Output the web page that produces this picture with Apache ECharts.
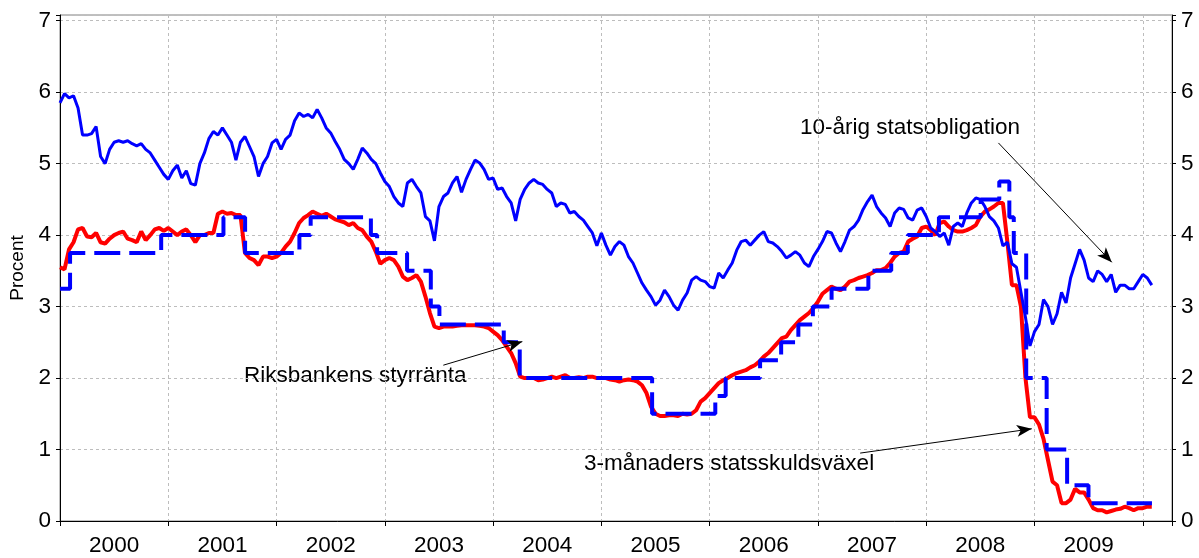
<!DOCTYPE html>
<html>
<head>
<meta charset="utf-8">
<script src="https://cdn.jsdelivr.net/npm/echarts@6/dist/echarts.min.js"></script>
<style>
  html, body { margin: 0; padding: 0; background: #fff; }
  #chart { width: 1199px; height: 558px; }
</style>
</head>
<body>
<div id="chart"></div>
<script>
// halvmånadsvisa observationer, första värdet = 1 jan 2000
const startYear = 2000;
const stepsPerYear = 24;

// 10-årig statsobligation
const bond10y = [
  5.85, 5.98, 5.92, 5.95, 5.78, 5.40, 5.40, 5.42, 5.52, 5.10, 5.00, 5.20, 5.30, 5.32, 5.30, 5.32, 5.28, 5.25, 5.28, 5.20, 5.15, 5.05, 4.95, 4.85,
  4.78, 4.90, 4.98, 4.80, 4.90, 4.72, 4.70, 5.00, 5.15, 5.35, 5.45, 5.40, 5.50, 5.40, 5.30, 5.05, 5.30, 5.38, 5.24, 5.10, 4.82, 5.00, 5.10, 5.29,
  5.34, 5.20, 5.34, 5.40, 5.60, 5.71, 5.66, 5.69, 5.64, 5.76, 5.64, 5.50, 5.43, 5.31, 5.20, 5.06, 5.00, 4.92, 5.06, 5.22, 5.15, 5.06, 5.00, 4.87,
  4.75, 4.68, 4.54, 4.45, 4.40, 4.73, 4.78, 4.68, 4.59, 4.26, 4.20, 3.92, 4.40, 4.54, 4.59, 4.73, 4.82, 4.60, 4.78, 4.92, 5.05, 5.01, 4.92, 4.78,
  4.80, 4.64, 4.66, 4.54, 4.45, 4.20, 4.50, 4.64, 4.73, 4.78, 4.73, 4.71, 4.64, 4.59, 4.40, 4.45, 4.43, 4.31, 4.33, 4.26, 4.21, 4.12, 4.03, 3.85,
  4.03, 3.86, 3.72, 3.84, 3.91, 3.86, 3.70, 3.61, 3.47, 3.33, 3.23, 3.14, 3.02, 3.09, 3.23, 3.14, 3.02, 2.95, 3.09, 3.19, 3.37, 3.42, 3.37, 3.35,
  3.28, 3.26, 3.47, 3.40, 3.51, 3.61, 3.79, 3.91, 3.93, 3.86, 3.93, 4.00, 4.05, 3.91, 3.89, 3.84, 3.77, 3.68, 3.72, 3.77, 3.72, 3.61, 3.56, 3.70,
  3.80, 3.91, 4.05, 4.03, 3.89, 3.77, 3.91, 4.07, 4.12, 4.21, 4.36, 4.47, 4.56, 4.40, 4.31, 4.24, 4.12, 4.31, 4.38, 4.36, 4.24, 4.21, 4.35, 4.38,
  4.26, 4.10, 4.05, 3.98, 4.03, 3.86, 4.12, 4.17, 4.12, 4.31, 4.45, 4.52, 4.50, 4.40, 4.26, 4.20, 4.10, 3.85, 3.90, 3.60, 3.55, 3.20, 2.85, 2.45,
  2.65, 2.75, 3.10, 3.00, 2.75, 2.90, 3.20, 3.05, 3.40, 3.60, 3.80, 3.65, 3.40, 3.35, 3.50, 3.45, 3.35, 3.45, 3.20, 3.30, 3.30, 3.25, 3.25, 3.35,
  3.45, 3.40, 3.30
];

// 3-månaders statsskuldsväxel
const tbill3m = [
  3.55, 3.52, 3.80, 3.90, 4.08, 4.10, 3.98, 3.97, 4.03, 3.90, 3.88, 3.95, 4.00, 4.03, 4.05, 3.95, 3.93, 3.90, 4.05, 3.93, 4.00, 4.08, 4.10, 4.06,
  4.10, 4.05, 4.00, 4.05, 4.08, 4.00, 3.90, 4.00, 4.00, 4.03, 4.03, 4.30, 4.33, 4.30, 4.31, 4.28, 4.28, 3.75, 3.68, 3.65, 3.58, 3.70, 3.70, 3.68,
  3.70, 3.75, 3.84, 3.91, 4.03, 4.17, 4.24, 4.28, 4.33, 4.30, 4.27, 4.30, 4.26, 4.22, 4.20, 4.18, 4.14, 4.17, 4.10, 4.07, 3.98, 3.91, 3.77, 3.60,
  3.65, 3.68, 3.65, 3.56, 3.42, 3.37, 3.40, 3.44, 3.35, 3.14, 2.91, 2.72, 2.70, 2.72, 2.72, 2.72, 2.73, 2.74, 2.74, 2.74, 2.74, 2.73, 2.72, 2.70,
  2.65, 2.60, 2.53, 2.44, 2.35, 2.21, 2.02, 2.00, 2.00, 2.00, 1.97, 1.98, 2.00, 2.02, 2.00, 2.02, 2.04, 2.00, 2.00, 2.01, 2.00, 2.02, 2.02, 2.00,
  2.00, 2.00, 1.98, 1.97, 1.95, 1.97, 1.98, 1.97, 1.95, 1.90, 1.79, 1.60, 1.50, 1.47, 1.47, 1.48, 1.48, 1.47, 1.50, 1.49, 1.50, 1.55, 1.67, 1.72,
  1.79, 1.86, 1.93, 1.97, 2.00, 2.04, 2.07, 2.09, 2.11, 2.15, 2.18, 2.23, 2.30, 2.35, 2.42, 2.49, 2.56, 2.58, 2.67, 2.74, 2.81, 2.86, 2.91, 2.98,
  3.07, 3.18, 3.23, 3.28, 3.25, 3.23, 3.28, 3.35, 3.37, 3.40, 3.42, 3.44, 3.47, 3.51, 3.51, 3.54, 3.61, 3.70, 3.75, 3.77, 3.91, 3.95, 3.98, 4.10,
  4.12, 4.07, 4.00, 4.17, 4.19, 4.12, 4.07, 4.05, 4.05, 4.07, 4.10, 4.14, 4.26, 4.33, 4.36, 4.40, 4.45, 4.45, 3.90, 3.30, 3.30, 3.00, 2.00, 1.45,
  1.45, 1.35, 1.15, 0.85, 0.55, 0.50, 0.25, 0.25, 0.30, 0.45, 0.40, 0.40, 0.30, 0.18, 0.15, 0.15, 0.12, 0.14, 0.16, 0.17, 0.20, 0.18, 0.15, 0.18,
  0.18, 0.20, 0.20
];

// Riksbankens styrränta (beslutsdatum och ny nivå)
const repoDates = [
  '2000-01-01', '2000-02-04', '2000-12-08', '2001-07-06', '2001-09-17', '2002-03-19', '2002-04-26', '2002-11-15',
  '2002-12-06', '2003-03-17', '2003-06-05', '2003-07-04', '2004-02-06', '2004-03-31', '2005-06-21', '2006-01-20',
  '2006-02-24', '2006-06-20', '2006-08-30', '2006-10-27', '2006-12-15', '2007-02-16', '2007-06-20', '2007-09-05',
  '2007-10-31', '2008-02-13', '2008-07-03', '2008-09-04', '2008-10-08', '2008-10-23', '2008-12-04', '2009-02-11',
  '2009-04-21', '2009-07-02', '2010-02-01'
];
const repoRates = [
  3.25, 3.75, 4.00, 4.25, 3.75, 4.00, 4.25, 4.00,
  3.75, 3.50, 3.00, 2.75, 2.50, 2.00, 1.50, 1.75,
  2.00, 2.25, 2.50, 2.75, 3.00, 3.25, 3.50, 3.75,
  4.00, 4.25, 4.50, 4.75, 4.25, 3.75, 2.00, 1.00,
  0.50, 0.25, 0.25
];

const yMin = 0, yMax = 7.08, yStep = 1;
const xMin = 2000, xMax = 2010.27;

function toYear(s) {
  const d = new Date(s + 'T00:00:00Z');
  const y = d.getUTCFullYear();
  const a = Date.UTC(y, 0, 1), b = Date.UTC(y + 1, 0, 1);
  return y + (d.getTime() - a) / (b - a);
}

const bondData = bond10y.map((v, i) => [startYear + i / stepsPerYear, v]);
const tbillData = tbill3m.map((v, i) => [startYear + i / stepsPerYear, v]);
const repoData = repoDates.map((d, i) => [toYear(d), repoRates[i]]);

const FONT = 'Liberation Sans, Arial, sans-serif';
const gridLine = { show: true, lineStyle: { color: '#bdbdbd', type: [3, 3], width: 1 } };
const intLabel = v => (Math.abs(v - Math.round(v)) < 1e-6 ? String(Math.round(v)) : '');

const chart = echarts.init(document.getElementById('chart'));

const arrowStyle = {
  silent: true,
  symbol: ['none', 'arrow'],
  symbolSize: [9, 15],
  label: { show: false },
  lineStyle: { color: '#000', width: 1, type: 'solid' },
  emphasis: { disabled: true },
  animation: false
};

chart.setOption({
  animation: false,
  backgroundColor: '#fff',
  textStyle: { fontFamily: FONT },
  grid: {
    left: 60, right: 27, top: 15, bottom: 37,
    outerBoundsMode: 'none', containLabel: false,
    show: true, borderColor: '#808080', borderWidth: 1
  },
  xAxis: [
    {
      type: 'value', min: xMin, max: xMax, interval: 1,
      axisLine: { show: true, lineStyle: { color: '#000', width: 1 } },
      axisTick: { show: true, length: 5, lineStyle: { color: '#000' } },
      axisLabel: { show: false },
      splitLine: gridLine
    },
    {
      type: 'value', min: xMin, max: xMax, interval: 0.5, position: 'bottom',
      axisLine: { show: false }, axisTick: { show: false }, splitLine: { show: false },
      axisLabel: {
        margin: 13, color: '#000', fontSize: 22.5, fontFamily: FONT,
        formatter: v => (Math.abs(v % 1 - 0.5) < 1e-6 ? String(Math.floor(v)) : '')
      }
    }
  ],
  yAxis: [
    {
      type: 'value', min: yMin, max: yMax, interval: yStep, position: 'left',
      name: 'Procent', nameLocation: 'middle', nameGap: 32, nameRotate: 90,
      nameTextStyle: { color: '#000', fontSize: 19, fontFamily: FONT },
      axisLine: { show: true, lineStyle: { color: '#000' } },
      axisTick: { show: true, length: 4, lineStyle: { color: '#000' } },
      axisLabel: { margin: 9, color: '#000', fontSize: 22.5, fontFamily: FONT, formatter: intLabel },
      splitLine: gridLine
    },
    {
      type: 'value', min: yMin, max: yMax, interval: yStep, position: 'right',
      axisLine: { show: true, lineStyle: { color: '#000' } },
      axisTick: { show: true, length: 4, lineStyle: { color: '#000' } },
      axisLabel: { margin: 9, color: '#000', fontSize: 22.5, fontFamily: FONT, formatter: intLabel },
      splitLine: { show: false }
    }
  ],
  series: [
    {
      name: '3-månaders statsskuldsväxel', type: 'line', data: tbillData,
      showSymbol: false, symbol: 'none',
      lineStyle: { color: '#ff0000', width: 4 },
      markLine: Object.assign({ data: [[{ coord: [2007.39, 0.95] }, { coord: [2008.975, 1.29] }]] }, arrowStyle)
    },
    {
      name: '10-årig statsobligation', type: 'line', data: bondData,
      showSymbol: false, symbol: 'none',
      lineStyle: { color: '#0000ff', width: 3 },
      markLine: Object.assign({ data: [[{ coord: [2008.667, 5.29] }, { coord: [2009.714, 3.62] }]] }, arrowStyle)
    },
    {
      name: 'Riksbankens styrränta', type: 'line', data: repoData, step: 'end',
      showSymbol: false, symbol: 'none',
      lineStyle: { color: '#0000ff', width: 4, type: [26, 9] },
      markLine: Object.assign({ data: [[{ coord: [2003.54, 2.18] }, { coord: [2004.27, 2.51] }]] }, arrowStyle)
    }
  ],
  graphic: [
    { type: 'text', x: 800, y: 128, style: { text: '10-årig statsobligation', font: '22.5px ' + FONT, fill: '#000', verticalAlign: 'middle' } },
    { type: 'text', x: 244, y: 376, style: { text: 'Riksbankens styrränta', font: '22.5px ' + FONT, fill: '#000', verticalAlign: 'middle' } },
    { type: 'text', x: 584, y: 464, style: { text: '3-månaders statsskuldsväxel', font: '22.5px ' + FONT, fill: '#000', verticalAlign: 'middle' } }
  ]
});
</script>
</body>
</html>
